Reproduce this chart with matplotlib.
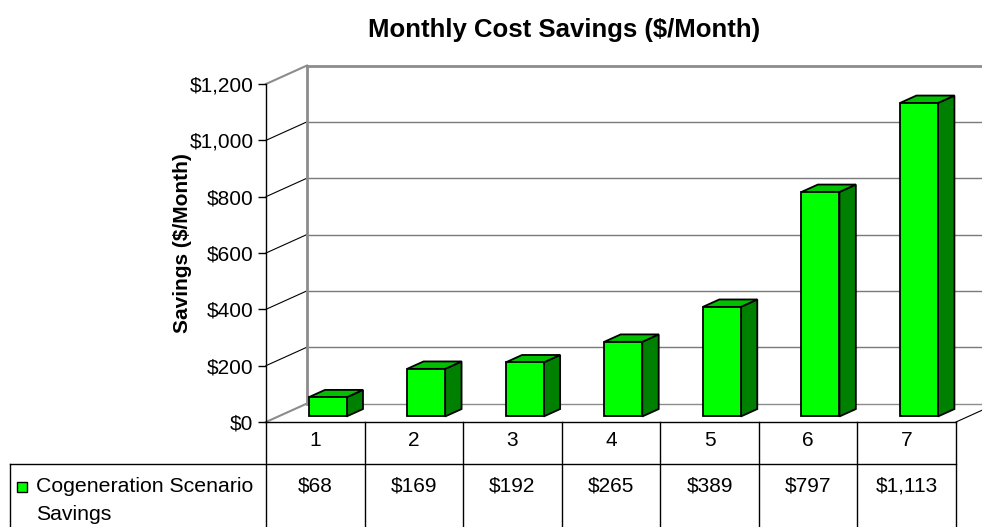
import matplotlib
matplotlib.use('Agg')
import matplotlib.pyplot as plt
from matplotlib.patches import Polygon, Rectangle
from matplotlib.transforms import blended_transform_factory

plt.rcParams['font.family'] = ['Liberation Sans', 'DejaVu Sans']

# data
categories = ['1', '2', '3', '4', '5', '6', '7']
savings = [68, 169, 192, 265, 389, 797, 1113]
y_ticks = [0, 200, 400, 600, 800, 1000, 1200]
y_tick_labels = ['$0', '$200', '$400', '$600', '$800', '$1,000', '$1,200']
series_name = 'Cogeneration Scenario\nSavings'
title = 'Monthly Cost Savings ($/Month)'
y_label = 'Savings ($/Month)'

# colours
FRONT = '#00ff00'
SIDE = '#008000'
TOP = '#00c000'
WALL = '#8c8c8c'

W, H = 982, 527
fig = plt.figure(figsize=(W / 100, H / 100), dpi=100)
fig.patch.set_facecolor('white')

# front plane of the plot area, in pixels
left_px, right_px, top_px, bottom_px = 266, 956, 84, 422
ax = fig.add_axes([left_px / W, (H - bottom_px) / H,
                   (right_px - left_px) / W, (bottom_px - top_px) / H])
n = len(categories)
ax.set_xlim(0.5, n + 0.5)
ax.set_ylim(0, y_ticks[-1])
ax.patch.set_visible(False)

px_x = (right_px - left_px) / n          # pixels per category
px_y = (bottom_px - top_px) / y_ticks[-1]  # pixels per dollar
DX = 41 / px_x                           # depth offset in data units
DY = 18.5 / px_y
F0, F1 = 0.3, 0.7                        # bar front/back depth fraction
BW = 38 / px_x                           # bar width

x_lo, x_hi = 0.5, n + 0.5

# back wall grid lines and side wall diagonals
for t in y_ticks:
    edge = t in (y_ticks[0], y_ticks[-1])
    ax.plot([x_lo + DX, x_hi + DX], [t + DY, t + DY],
            color=WALL if edge else '#7a7a7a', lw=2 if t == y_ticks[-1] else 1,
            clip_on=False, zorder=1)
    ax.plot([x_lo, x_lo + DX], [t, t + DY],
            color=WALL if edge else 'black', lw=1.5 if edge else 0.8,
            clip_on=False, zorder=1)
ax.plot([x_lo + DX, x_lo + DX], [DY, y_ticks[-1] + DY], color=WALL, lw=2,
        clip_on=False, zorder=1)
ax.plot([x_hi, x_hi + DX], [0, DY], color='black', lw=0.8, clip_on=False, zorder=1)

# 3d columns
for i, v in enumerate(savings):
    xc = i + 1
    x0 = xc - BW / 2 + F0 * DX
    x1 = xc + BW / 2 + F0 * DX
    y0 = F0 * DY
    y1 = v + F0 * DY
    ddx = (F1 - F0) * DX
    ddy = (F1 - F0) * DY
    ax.add_patch(Polygon([(x1, y0), (x1 + ddx, y0 + ddy), (x1 + ddx, y1 + ddy), (x1, y1)],
                         closed=True, facecolor=SIDE, edgecolor='black', lw=1.3, zorder=3))
    ax.add_patch(Polygon([(x0, y1), (x1, y1), (x1 + ddx, y1 + ddy), (x0 + ddx, y1 + ddy)],
                         closed=True, facecolor=TOP, edgecolor='black', lw=1.3, zorder=3))
    ax.add_patch(Rectangle((x0, y0), x1 - x0, v, facecolor=FRONT,
                           edgecolor='black', lw=1.3, zorder=4))

# axes
for s in ('top', 'right'):
    ax.spines[s].set_visible(False)
ax.spines['left'].set_linewidth(1)
ax.spines['bottom'].set_linewidth(1)
ax.set_xticks([])
ax.set_yticks(y_ticks, y_tick_labels)
ax.tick_params(axis='y', direction='out', length=6, width=1, pad=3, labelsize=15)

# data table below the plot
trans = blended_transform_factory(ax.transData, fig.transFigure)
row1_y = (H - 464) / H
top_y = (H - bottom_px) / H
x_table_left = x_lo - (left_px - 10) / px_x
for k in range(n + 1):
    ax.plot([x_lo + k, x_lo + k], [0, top_y], transform=trans, color='black',
            lw=1, clip_on=False)
ax.plot([x_table_left, x_hi], [row1_y, row1_y], transform=trans, color='black',
        lw=1, clip_on=False)
ax.plot([x_table_left, x_table_left], [0, row1_y], transform=trans, color='black',
        lw=1, clip_on=False)

for i, (c, v) in enumerate(zip(categories, savings)):
    ax.text(i + 1, (H - 441) / H, c, transform=trans, ha='center', va='center',
            fontsize=15)
    ax.text(i + 1, (H - 486) / H, '${:,}'.format(v), transform=trans,
            ha='center', va='center', fontsize=15)

fig.add_artist(Rectangle((17 / W, (H - 492) / H), 10 / W, 10 / H,
                         transform=fig.transFigure, facecolor=FRONT,
                         edgecolor='black', lw=1))
fig.text(36 / W, (H - 477) / H, series_name, ha='left', va='top',
         fontsize=15.3, linespacing=1.6)

fig.text(564 / W, (H - 30) / H, title, ha='center', va='center',
         fontsize=18.5, fontweight='bold')
fig.text(182 / W, (H - 243) / H, y_label, ha='center', va='center',
         rotation=90, fontsize=15, fontweight='bold')

fig.savefig('out.png', dpi=100)
